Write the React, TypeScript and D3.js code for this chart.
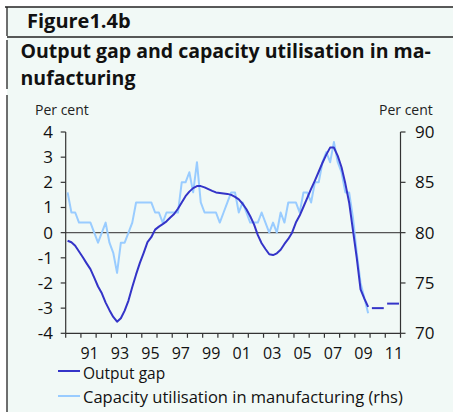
import React from "react";
import * as d3 from "d3";

// Quarterly data, 1990Q1 – 2009Q4
const START_YEAR = 1990;
const outputGap = [
  -0.32, -0.38, -0.52, -0.75, -0.98, -1.22, -1.45, -1.79,
  -2.14, -2.41, -2.78, -3.08, -3.35, -3.54, -3.4, -3.1,
  -2.7, -2.16, -1.66, -1.2, -0.8, -0.38, -0.18, 0.12,
  0.24, 0.34, 0.45, 0.6, 0.74, 0.95, 1.2, 1.45,
  1.63, 1.77, 1.85, 1.85, 1.8, 1.73, 1.66, 1.6,
  1.58, 1.56, 1.54, 1.5, 1.42, 1.32, 1.15, 0.93,
  0.65, 0.33, -0.1, -0.42, -0.65, -0.86, -0.89, -0.82,
  -0.68, -0.45, -0.25, 0.0, 0.4, 0.68, 1.03, 1.38,
  1.74, 2.07, 2.42, 2.78, 3.1, 3.38, 3.38, 3.05,
  2.6, 1.95, 1.2, 0.1, -1.0, -2.25, -2.62, -2.95,
];
const capacity = [
  84, 82, 82, 81, 81, 81, 81, 80,
  79, 80, 81, 79, 78, 76, 79, 79,
  80, 81, 83, 83, 83, 83, 83, 82,
  82, 81, 82, 82, 82, 82, 85, 85,
  86, 84, 87, 83, 82, 82, 82, 82,
  81, 82, 83, 84, 84, 82, 83, 82,
  81, 81, 81, 82, 81, 80, 81, 80,
  82, 81, 83, 83, 83, 82, 84, 84,
  83, 85, 85, 87, 88, 87, 89, 87,
  86, 84, 84, 81.5, 78, 75, 73.5, 72,
];
// Annual projections of the output gap
const forecastYears = [2010, 2011];
const forecastGap = [-3.0, -2.82];

const leftTicks = [4, 3, 2, 1, 0, -1, -2, -3, -4];
const rightTicks = [90, 85, 80, 75, 70];
const yearTicks = d3.range(1990, 2013);
const yearLabels = ["91", "93", "95", "97", "99", "01", "03", "05", "07", "09", "11"];
const labelYears = [1991, 1993, 1995, 1997, 1999, 2001, 2003, 2005, 2007, 2009, 2011];

const W = 453;
const H = 412;
const FONT = "'Open Sans', 'Noto Sans', sans-serif";
const DARK = "#3434c8";
const LIGHT = "#99ccff";

export default function App() {
  const x = d3.scaleLinear().domain([1990, 2012]).range([65.7, 400.5]);
  const yL = d3.scaleLinear().domain([-4, 4]).range([333.3, 132]);
  const yR = d3.scaleLinear().domain([70, 90]).range([333.3, 132]);
  const qx = (i: number) => x(START_YEAR + i / 4 + 0.125);

  const gapLine = d3
    .line<number>()
    .x((_, i) => qx(i))
    .y((d) => yL(d));
  const capLine = d3
    .line<number>()
    .x((_, i) => qx(i))
    .y((d) => yR(d));

  return (
    <svg
      width={W}
      height={H}
      style={{ position: "absolute", left: 0, top: 0, display: "block" }}
      fontFamily={FONT}
    >
      <rect x={0} y={0} width={W} height={H} fill="#ffffff" />
      <rect x={7} y={7} width={W - 7} height={H - 7} fill="#f1f9f6" />
      {/* frame lines */}
      <line x1={5} x2={W} y1={7} y2={7} stroke="#222" strokeWidth={1.3} />
      <line x1={7} x2={W} y1={37} y2={37} stroke="#222" strokeWidth={1.3} />
      <line x1={7} x2={7} y1={7} y2={36} stroke="#222" strokeWidth={1.3} />
      <line x1={7} x2={7} y1={40} y2={89} stroke="#222" strokeWidth={1.3} />
      <line x1={7} x2={7} y1={95} y2={H} stroke="#222" strokeWidth={1.3} />

      <text x={27} y={28} fontSize={20} fontWeight="bold" fill="#111">
        Figure1.4b
      </text>
      <text x={20.5} y={58} fontSize={19.5} fontWeight="bold" fill="#111">
        Output gap and capacity utilisation in ma-
      </text>
      <text x={20.5} y={85} fontSize={19.5} fontWeight="bold" fill="#111">
        nufacturing
      </text>

      <text x={35} y={115} fontSize={14} fill="#222">Per cent</text>
      <text x={379} y={115} fontSize={14} fill="#222">Per cent</text>

      {/* zero line */}
      <line x1={x(1990)} x2={x(2012)} y1={yL(0)} y2={yL(0)} stroke="#555" strokeWidth={1.4} />

      {/* left axis */}
      <line x1={x(1990)} x2={x(1990)} y1={yL(4)} y2={yL(-4)} stroke="#333" strokeWidth={1.2} />
      {leftTicks.map((t) => (
        <g key={"l" + t}>
          <line x1={x(1990) - 5} x2={x(1990)} y1={yL(t)} y2={yL(t)} stroke="#333" strokeWidth={1.2} />
          <text x={53} y={yL(t) + 6} fontSize={17} textAnchor="end" fill="#111">
            {t}
          </text>
        </g>
      ))}
      {/* right axis */}
      <line x1={x(2012)} x2={x(2012)} y1={yR(90)} y2={yR(70)} stroke="#333" strokeWidth={1.2} />
      {rightTicks.map((t) => (
        <g key={"r" + t}>
          <line x1={x(2012)} x2={x(2012) + 5} y1={yR(t)} y2={yR(t)} stroke="#333" strokeWidth={1.2} />
          <text x={415} y={yR(t) + 6} fontSize={17} fill="#111">
            {t}
          </text>
        </g>
      ))}
      {/* x axis */}
      <line x1={x(1990)} x2={x(2012)} y1={yL(-4)} y2={yL(-4)} stroke="#333" strokeWidth={1.2} />
      {yearTicks.map((t) => (
        <line key={"x" + t} x1={x(t)} x2={x(t)} y1={yL(-4)} y2={yL(-4) + 4.5} stroke="#333" strokeWidth={1.2} />
      ))}
      {labelYears.map((yr, i) => (
        <text key={"xl" + yr} x={x(yr + 0.5) + 1} y={358.5} fontSize={16} textAnchor="middle" fill="#111">
          {yearLabels[i]}
        </text>
      ))}

      {/* series */}
      <path d={capLine(capacity) ?? ""} fill="none" stroke={LIGHT} strokeWidth={2} strokeLinejoin="round" />
      <path d={gapLine(outputGap) ?? ""} fill="none" stroke={DARK} strokeWidth={2} strokeLinejoin="round" />
      {forecastYears.map((yr, i) => (
        <line
          key={"f" + yr}
          x1={x(yr + 0.12)}
          x2={Math.min(x(yr + 0.9), x(2012))}
          y1={yL(forecastGap[i])}
          y2={yL(forecastGap[i])}
          stroke={DARK}
          strokeWidth={2}
        />
      ))}

      {/* legend */}
      <line x1={58} x2={80} y1={371} y2={371} stroke={DARK} strokeWidth={2} />
      <text x={83} y={379} fontSize={15.5} fill="#111">Output gap</text>
      <line x1={58} x2={80} y1={396} y2={396} stroke={LIGHT} strokeWidth={2} />
      <text x={83} y={403} fontSize={16.5} fill="#111">Capacity utilisation in manufacturing (rhs)</text>
    </svg>
  );
}
